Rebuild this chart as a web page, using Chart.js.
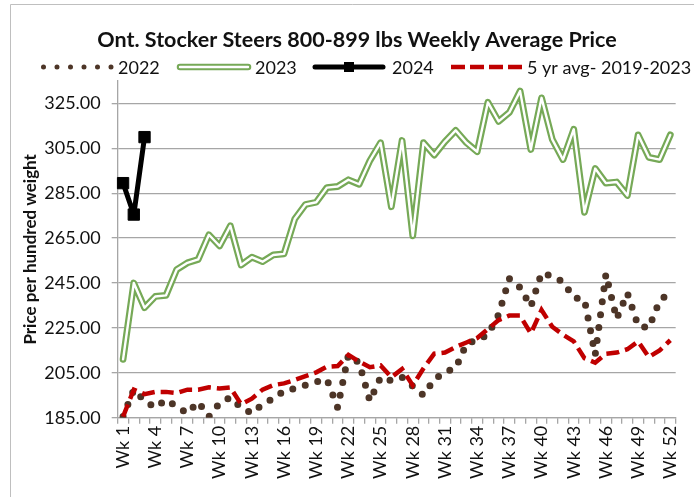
<!DOCTYPE html>
<html lang="en">
<head>
  <meta charset="UTF-8" />
  <title>Ont. Stocker Steers 800-899 lbs Weekly Average Price</title>
  <script src="https://cdn.jsdelivr.net/npm/chart.js"></script>
  <style>
    body {
      margin: 0;
      background-color: white;
      overflow: hidden;
    }
    .chart-container {
      width: 694px;
      height: 497px;
    }
  </style>
</head>
<body>

  <div class="chart-container">
    <canvas id="priceChart"></canvas>
  </div>

  <script>
    // weeks on the x axis
    const weeks = [
      'Wk 1', 'Wk 2', 'Wk 3', 'Wk 4', 'Wk 5', 'Wk 6', 'Wk 7', 'Wk 8', 'Wk 9', 'Wk 10',
      'Wk 11', 'Wk 12', 'Wk 13', 'Wk 14', 'Wk 15', 'Wk 16', 'Wk 17', 'Wk 18', 'Wk 19', 'Wk 20',
      'Wk 21', 'Wk 22', 'Wk 23', 'Wk 24', 'Wk 25', 'Wk 26', 'Wk 27', 'Wk 28', 'Wk 29', 'Wk 30',
      'Wk 31', 'Wk 32', 'Wk 33', 'Wk 34', 'Wk 35', 'Wk 36', 'Wk 37', 'Wk 38', 'Wk 39', 'Wk 40',
      'Wk 41', 'Wk 42', 'Wk 43', 'Wk 44', 'Wk 45', 'Wk 46', 'Wk 47', 'Wk 48', 'Wk 49', 'Wk 50',
      'Wk 51', 'Wk 52'
    ];

    // $ per hundred weight, by week
    const price2022 = [
      185.5, 197.5, 192.5, 189.5, 193, 190, 187, 192, 185.5, 191.5,
      194, 189.5, 187, 191, 193.5, 197, 198, 199.5, 201, 202,
      189.5, 213, 209.5, 192.5, 203, 201.5, 203, 199, 195, 202,
      205.5, 207, 218, 219.5, 222, 231, 247, 243, 234.5, 249.5,
      248, 245.5, 238.5, 237.5, 213, 249, 229, 240.5, 226, 225,
      237, 241
    ];
    const price2023 = [
      211, 245, 234, 239, 239.5, 251, 254, 255.5, 266.5, 261.5,
      270.5, 253, 256.5, 254.5, 257.5, 258, 273.5, 280, 281, 287.5,
      288, 291, 289, 299.5, 307.5, 279, 308.5, 266, 307.5, 302,
      308, 313, 307.5, 303.5, 325.5, 317, 321, 330.5, 304.5, 327.5,
      309, 300, 313.5, 276.5, 296, 289.5, 290, 284, 311, 301,
      300, 311
    ];
    const price2024 = [289.5, 275.5, 310];
    const avg5yr = [
      185.5, 197.5, 195.5, 196.5, 196.5, 196, 197.5, 197.5, 198.5, 198,
      198.5, 191, 193.5, 197.5, 199.5, 200.3, 201.8, 203.5, 205.2, 207.7,
      208, 213, 210, 207.5, 208.3, 203, 206.7, 199.4, 207, 213.5,
      214, 216.5, 218.5, 220.5, 224.5, 228.5, 230.5, 230.5, 222.5, 233,
      225.5, 222, 219, 211.5, 209.5, 213.5, 214, 215.5, 219, 212,
      215, 219.5
    ];

    const yTicks = [185, 205, 225, 245, 265, 285, 305, 325];

    const textColor = '#111';
    const axisColor = '#a6a6a6';
    const brown = '#4d3527';
    const green = '#76a957';
    const red = '#c00000';

    // frame, title and legend drawn like the excel original
    const headerPlugin = {
      id: 'header',
      afterDraw(chart) {
        const ctx = chart.ctx;
        ctx.save();

        ctx.strokeStyle = '#bfbfbf';
        ctx.lineWidth = 1;
        ctx.beginPath();
        ctx.moveTo(10.5, 497);
        ctx.lineTo(10.5, 4.5);
        ctx.lineTo(694, 4.5);
        ctx.stroke();

        ctx.fillStyle = textColor;
        ctx.textAlign = 'center';
        ctx.textBaseline = 'middle';
        ctx.font = 'bold 21.5px Lato';
        ctx.fillText('Ont. Stocker Steers 800-899 lbs Weekly Average Price', 357, 40);

        const y = 67;
        ctx.lineJoin = 'round';

        // 2022 dots
        ctx.strokeStyle = brown;
        ctx.lineWidth = 5;
        ctx.lineCap = 'round';
        ctx.setLineDash([0, 13.5]);
        ctx.beginPath();
        ctx.moveTo(43.5, y);
        ctx.lineTo(112, y);
        ctx.stroke();
        ctx.setLineDash([]);

        // 2023 double line
        ctx.strokeStyle = green;
        ctx.lineWidth = 6.5;
        ctx.beginPath();
        ctx.moveTo(180, y);
        ctx.lineTo(248, y);
        ctx.stroke();
        ctx.strokeStyle = 'white';
        ctx.lineWidth = 2.4;
        ctx.stroke();

        // 2024 line with square
        ctx.strokeStyle = 'black';
        ctx.lineWidth = 5;
        ctx.beginPath();
        ctx.moveTo(315, y);
        ctx.lineTo(383, y);
        ctx.stroke();
        ctx.fillStyle = 'black';
        ctx.fillRect(344, y - 5, 10, 10);

        // 5 yr avg dashes
        ctx.strokeStyle = red;
        ctx.lineWidth = 4.5;
        ctx.lineCap = 'butt';
        ctx.setLineDash([14, 5]);
        ctx.beginPath();
        ctx.moveTo(451, y);
        ctx.lineTo(523, y);
        ctx.stroke();
        ctx.setLineDash([]);

        ctx.fillStyle = textColor;
        ctx.textAlign = 'left';
        ctx.font = '18px Lato';
        ctx.fillText('2022', 118, y + 1);
        ctx.fillText('2023', 255, y + 1);
        ctx.fillText('2024', 392, y + 1);
        ctx.fillText('5 yr avg- 2019-2023', 527, y + 1);

        ctx.restore();
      }
    };

    const tickFont = { family: 'Lato', size: 18 };

    const ctx = document.getElementById('priceChart').getContext('2d');
    new Chart(ctx, {
      type: 'line',
      data: {
        labels: weeks,
        datasets: [
          {
            label: '5 yr avg- 2019-2023',
            data: avg5yr,
            borderColor: red,
            borderWidth: 4.5,
            borderDash: [13, 6],
            pointRadius: 0,
            tension: 0,
            order: 0
          },
          {
            label: '2024',
            data: price2024,
            borderColor: 'black',
            backgroundColor: 'black',
            borderWidth: 5,
            borderJoinStyle: 'round',
            pointStyle: 'rect',
            pointRadius: 8,
            pointBorderWidth: 1,
            pointBackgroundColor: 'black',
            order: 1
          },
          {
            label: '2023 inner',
            data: price2023,
            borderColor: 'white',
            borderWidth: 2.4,
            borderJoinStyle: 'round',
            borderCapStyle: 'round',
            pointRadius: 0,
            order: 2
          },
          {
            label: '2023',
            data: price2023,
            borderColor: green,
            borderWidth: 6.8,
            borderJoinStyle: 'round',
            borderCapStyle: 'round',
            pointRadius: 0,
            order: 3
          },
          {
            label: '2022',
            data: price2022,
            borderColor: brown,
            borderWidth: 7,
            borderDash: [0, 13],
            borderCapStyle: 'round',
            pointRadius: 0,
            order: 4
          }
        ]
      },
      options: {
        responsive: true,
        maintainAspectRatio: false,
        animation: false,
        layout: {
          padding: { top: 81, right: 3.3, left: 0, bottom: 0 }
        },
        plugins: {
          legend: { display: false },
          title: { display: false },
          tooltip: { enabled: false }
        },
        scales: {
          x: {
            offset: true,
            grid: {
              offset: true,
              drawOnChartArea: false,
              drawTicks: true,
              tickLength: 6,
              color: axisColor,
              lineWidth: 1.3
            },
            border: { color: axisColor, width: 1.3 },
            ticks: {
              autoSkip: false,
              minRotation: 90,
              maxRotation: 90,
              padding: 2,
              font: tickFont,
              color: textColor,
              callback: function (value, index) {
                return index % 3 === 0 ? this.getLabelForValue(value) : '';
              }
            },
            afterFit: scale => { scale.height = 79.3; }
          },
          y: {
            min: 185,
            max: 335,
            afterBuildTicks: scale => {
              scale.ticks = yTicks.map(v => ({ value: v }));
            },
            grid: {
              color: axisColor,
              lineWidth: 1.3,
              tickLength: 6
            },
            border: { color: axisColor, width: 1.3 },
            ticks: {
              padding: 11,
              font: tickFont,
              color: textColor,
              callback: value => value.toFixed(2)
            },
            title: {
              display: true,
              text: 'Price per hundred weight',
              font: { family: 'Lato', size: 17, weight: 'bold' },
              color: textColor,
              padding: { top: 20, bottom: 0 }
            },
            afterFit: scale => { scale.width = 117.7; }
          }
        }
      },
      plugins: [headerPlugin]
    });
  </script>

</body>
</html>
